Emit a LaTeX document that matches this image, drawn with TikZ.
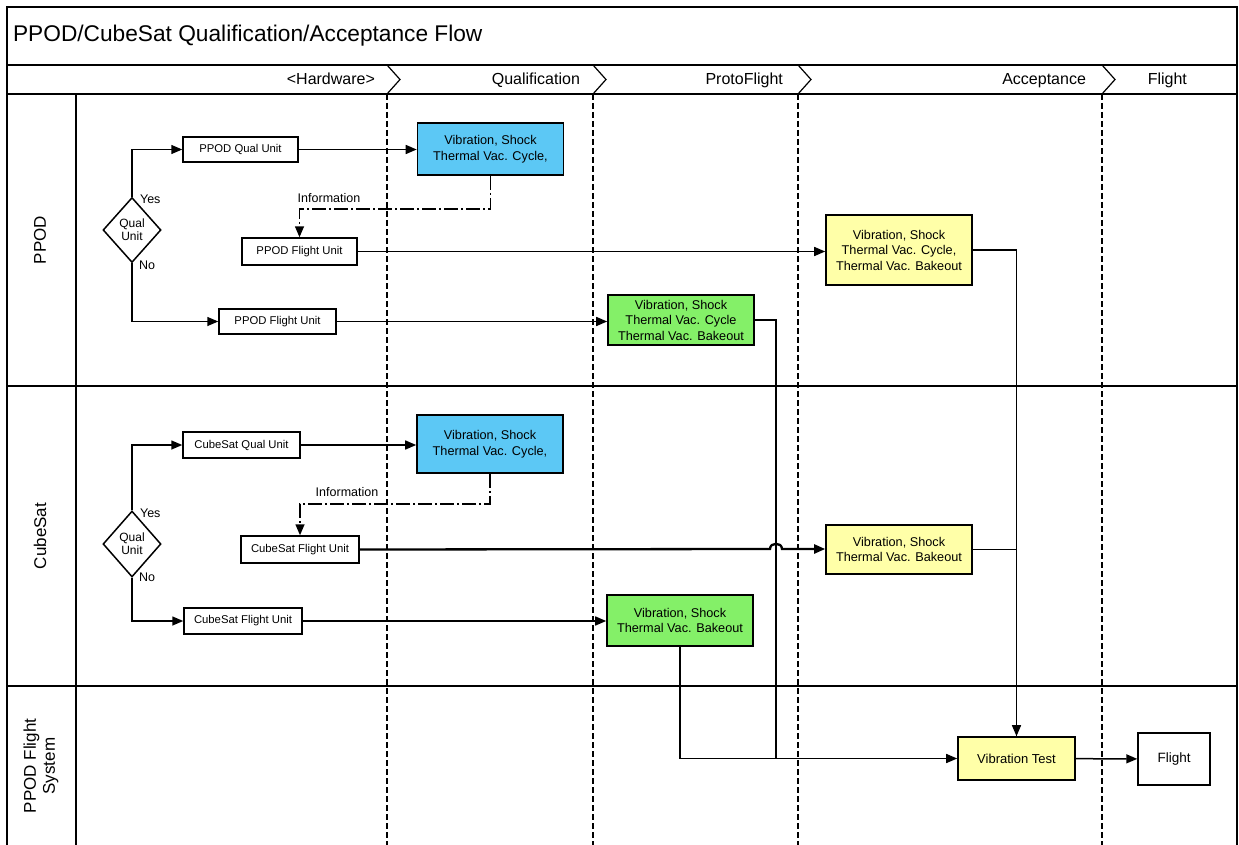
\documentclass[tikz,border=0pt]{standalone}
\usepackage{fontspec}
\setmainfont{Liberation Sans}
\usetikzlibrary{positioning,calc,arrows.meta,shapes.geometric}
\definecolor{qualclr}{RGB}{92,200,245}
\definecolor{protoclr}{RGB}{132,240,104}
\definecolor{acceptclr}{RGB}{255,255,168}

\begin{document}
\begin{tikzpicture}[
    x=1pt,
    y=-1pt,
    line width=1.5pt,
    unitbox/.style={draw, line width=1.5pt, fill=white, inner sep=0pt, minimum width=116pt, minimum height=26pt, align=center, font=\fontsize{11.3}{13}\selectfont},
    qualbox/.style={draw, line width=1.6pt, fill=qualclr, inner sep=0pt, minimum width=146pt, align=center, font=\fontsize{12.7}{15.5}\selectfont},
    protobox/.style={draw, line width=1.6pt, fill=protoclr, inner sep=0pt, minimum width=146pt, align=center, font=\fontsize{12.7}{15.5}\selectfont},
    acceptbox/.style={draw, line width=1.6pt, fill=acceptclr, inner sep=0pt, minimum width=146pt, align=center, font=\fontsize{12.7}{15.5}\selectfont},
    decision/.style={draw, diamond, line width=1.5pt, fill=white, inner sep=0pt, minimum width=58pt, minimum height=65pt, align=center, font=\fontsize{12}{13}\selectfont},
    lanelabel/.style={rotate=90, align=center, font=\fontsize{17}{19}\selectfont},
    phaselabel/.style={anchor=base east, font=\fontsize{16}{18}\selectfont},
    smalllabel/.style={font=\fontsize{12.5}{14}\selectfont},
    flow/.style={-{Triangle[length=11pt,width=9pt]}, line width=1.5pt},
    infoflow/.style={-{Triangle[length=11pt,width=9pt]}, line width=1.5pt, dash pattern=on 14pt off 3pt on 2pt off 3pt},
    lane/.style={draw, line width=1.5pt},
    phaseline/.style={line width=1.2pt, dash pattern=on 6pt off 3pt}
]
\useasboundingbox (0,0) rectangle (1239,845);

% Frame and swimlanes.
\draw[lane] (7,845) -- (7,7) -- (1237,7) -- (1237,845);
\draw[lane] (7,65) -- (1237,65);
\draw[lane] (7,94) -- (1237,94);
\draw[lane] (7,386) -- (1237,386);
\draw[lane] (7,686) -- (1237,686);
\draw[lane] (76,94) -- (76,845);
\foreach \x in {387,593,798,1102} {
  \draw[line width=1.2pt] (\x,65) -- (\x+13,79.5) -- (\x,94);
  \draw[phaseline] (\x,94) -- (\x,845);
}

% Title and phases.
\node[anchor=west, font=\fontsize{22.7}{26}\selectfont] (title) at (9,36) {PPOD/CubeSat Qualification/Acceptance Flow};
\node[phaselabel] (hdr_hw) at (379,85) {<Hardware>};
\node[phaselabel] (hdr_qual) at (584,85) {Qualification};
\node[phaselabel] (hdr_proto) at (787,85) {ProtoFlight};
\node[phaselabel] (hdr_accept) at (1090,85) {Acceptance};
\node[phaselabel] (hdr_flight) at (1191,85) {Flight};

% Lane labels.
\node[lanelabel] (lane_ppod) at (40,240) {PPOD};
\node[lanelabel] (lane_cube) at (40,536) {CubeSat};
\node[lanelabel] (lane_sys) at (41,766) {PPOD Flight\\System};

% PPOD lane.
\node[decision] (ppod_dec) at (132,230) {Qual\\Unit};
\node[unitbox, minimum width=115pt, minimum height=25pt] (ppod_qual) at (240.5,149.5) {PPOD Qual Unit};
\node[qualbox, minimum height=52pt] (ppod_qual_test) at (490.5,149) {Vibration, Shock\\Thermal Vac. Cycle,};
\node[unitbox, minimum width=115pt, minimum height=27pt] (ppod_flight_a) at (299.5,251.5) {PPOD Flight Unit};
\node[unitbox, minimum width=117pt, minimum height=25pt] (ppod_flight_b) at (277.5,321.5) {PPOD Flight Unit};
\node[protobox, minimum height=50pt] (ppod_proto) at (681,320) {Vibration, Shock\\Thermal Vac. Cycle\\Thermal Vac. Bakeout};
\node[acceptbox, minimum height=70pt] (ppod_accept) at (899,250) {Vibration, Shock\\Thermal Vac. Cycle,\\Thermal Vac. Bakeout};
\node[smalllabel, anchor=west] (ppod_yes) at (136,199) {Yes};
\node[smalllabel, anchor=west] (ppod_no) at (135,265) {No};
\node[smalllabel] (ppod_info) at (329,198) {Information};

% CubeSat lane.
\node[decision, minimum height=66pt] (cube_dec) at (132,544) {Qual\\Unit};
\node[unitbox, minimum width=117pt] (cube_qual) at (241.5,445) {CubeSat Qual Unit};
\node[qualbox, minimum height=58pt] (cube_qual_test) at (490,444) {Vibration, Shock\\Thermal Vac. Cycle,};
\node[unitbox, minimum width=118pt, minimum height=27pt] (cube_flight_a) at (300,549.5) {CubeSat Flight Unit};
\node[unitbox, minimum width=118pt] (cube_flight_b) at (243,621) {CubeSat Flight Unit};
\node[protobox, minimum height=51pt] (cube_proto) at (680,620.5) {Vibration, Shock\\Thermal Vac. Bakeout};
\node[acceptbox, minimum height=49pt] (cube_accept) at (899,549.5) {Vibration, Shock\\Thermal Vac. Bakeout};
\node[smalllabel, anchor=west] (cube_yes) at (136,513) {Yes};
\node[smalllabel, anchor=west] (cube_no) at (135,577) {No};
\node[smalllabel] (cube_info) at (347,492) {Information};

% Flight system lane.
\node[acceptbox, minimum width=117pt, minimum height=43pt, font=\fontsize{13}{15}\selectfont] (vib_test) at (1016.5,758.5) {Vibration Test};
\node[unitbox, minimum width=72pt, minimum height=52pt, font=\fontsize{13.5}{15}\selectfont] (flight) at (1174,759) {Flight};
\coordinate (join_proto) at (776,758.5);
\coordinate (hop) at (776,549);

% PPOD flows.
\draw[flow] (ppod_dec.north) |- (ppod_qual.west);
\draw[flow] (ppod_dec.south) |- (ppod_flight_b.west);
\draw[flow] (ppod_qual.east) -- (ppod_qual_test.west |- ppod_qual.east);
\draw[infoflow] (ppod_qual_test.south) -- ++(0,33) -| (ppod_flight_a.north);
\draw[flow] (ppod_flight_a.east) -- (ppod_accept.west |- ppod_flight_a.east);
\draw[flow] (ppod_flight_b.east) -- (ppod_proto.west |- ppod_flight_b.east);
\draw (ppod_proto.east) -| (join_proto);
\draw[flow] (ppod_accept.east) -| (vib_test.north);

% CubeSat flows.
\draw[flow] (cube_dec.north) |- (cube_qual.west);
\draw[flow] (cube_dec.south) |- (cube_flight_b.west);
\draw[flow] (cube_qual.east) -- (cube_qual_test.west |- cube_qual.east);
\draw[infoflow] (cube_qual_test.south) -- ++(0,30) -| (cube_flight_a.north);
\draw[flow, line width=2.3pt] (cube_flight_a.east) -- ($(hop)+(-6,0)$) .. controls ($(hop)+(-6,-7)$) and ($(hop)+(6,-7)$) .. ($(hop)+(6,0)$) -- (cube_accept.west |- hop);
\draw[flow] (cube_flight_b.east) -- (cube_proto.west |- cube_flight_b.east);
\draw (cube_accept.east) -| (vib_test.north);
\draw[flow] (cube_proto.south) |- (vib_test.west);
\draw[flow] (vib_test) -- (flight);

\end{tikzpicture}
\end{document}
